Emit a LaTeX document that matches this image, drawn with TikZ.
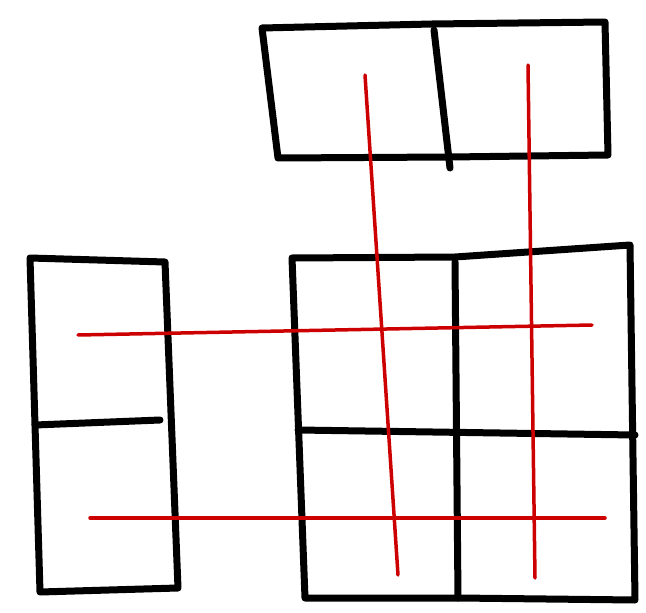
\documentclass[tikz,border=0pt]{standalone}
\usetikzlibrary{positioning}

\begin{document}
\begin{tikzpicture}[x=1pt, y=-1pt,
    frame/.style={draw=black, line width=7pt, line join=round, line cap=round},
    redline/.style={draw=red!80!black, line width=3.5pt, line cap=round}]
    \useasboundingbox (0,0) rectangle (646,613);
    % top block
    \draw[frame] (262,28) -- (432,24) -- (605,22) -- (608,155) -- (450,157) -- (278,158) -- cycle;
    \draw[frame] (434,30) -- (450,168);
    % left block
    \draw[frame] (30,258) -- (165,262) -- (178,588) -- (40,592) -- cycle;
    \draw[frame] (35,425) -- (160,420);
    % right block
    \draw[frame] (292,258) -- (455,257) -- (630,245) -- (635,600) -- (458,598) -- (305,598) -- cycle;
    \draw[frame] (455,262) -- (458,598);
    \draw[frame] (298,430) -- (635,435);
    % red lines
    \draw[redline] (365,75) -- (398,575);
    \draw[redline] (528,65) -- (535,578);
    \draw[redline] (78,335) -- (592,325);
    \draw[redline] (90,518) -- (605,518);
\end{tikzpicture}
\end{document}
